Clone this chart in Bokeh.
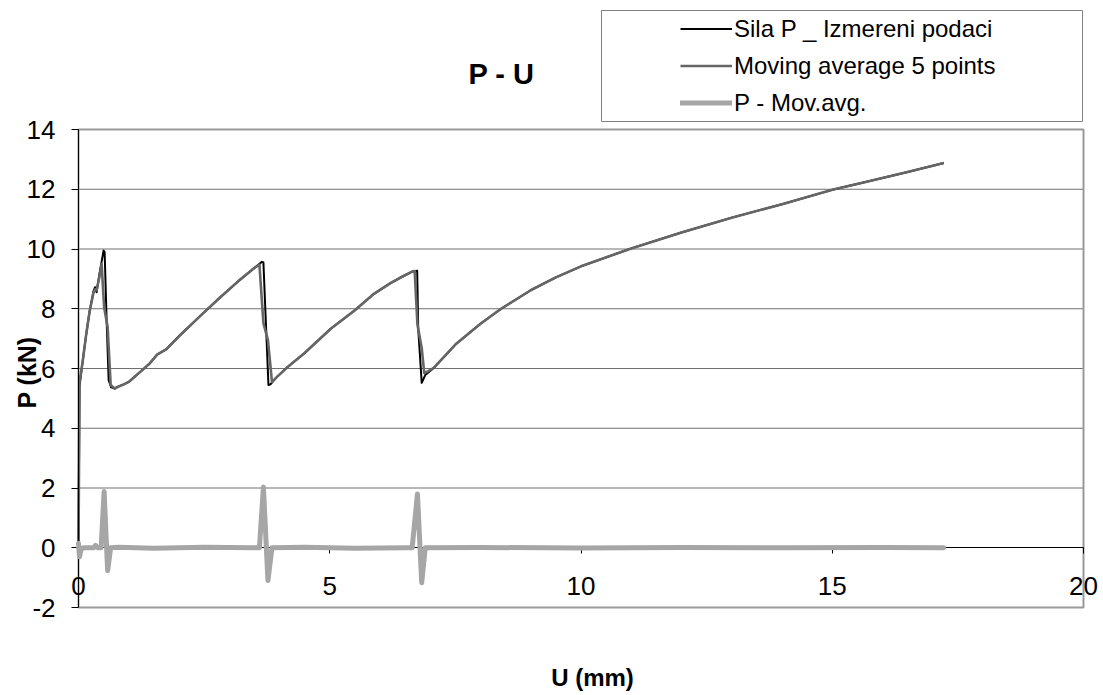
import math

from bokeh.plotting import figure
from bokeh.models import (Range1d, FixedTicker, Label, Legend, LegendItem,
                          BoxAnnotation)
from bokeh.embed import file_html
from bokeh.resources import INLINE

# Measured force P (kN) against displacement U (mm)
u_raw = [0.00, 0.02, 0.08, 0.15, 0.22, 0.30, 0.33, 0.36, 0.42, 0.50, 0.52,
         0.56, 0.60, 0.65, 0.72, 0.80, 0.90, 1.00, 1.10, 1.25, 1.40, 1.57,
         1.65, 1.75, 2.00, 2.43, 2.80, 3.20, 3.45, 3.65, 3.68, 3.72, 3.78,
         3.82, 3.95, 4.15, 4.50, 5.02, 5.50, 5.88, 6.20, 6.45, 6.65, 6.74,
         6.76, 6.83, 6.90, 7.07, 7.50, 8.00, 8.41, 9.00, 9.50, 10.00, 11.00,
         12.00, 13.00, 14.00, 15.00, 15.60, 16.50, 17.22]
p_raw = [0.00, 5.40, 6.20, 7.10, 7.90, 8.60, 8.72, 8.55, 9.20, 9.95, 9.90,
         7.60, 5.62, 5.37, 5.33, 5.40, 5.47, 5.55, 5.70, 5.92, 6.14, 6.47,
         6.55, 6.65, 7.08, 7.77, 8.35, 8.95, 9.30, 9.57, 9.55, 7.90, 5.45,
         5.47, 5.72, 6.03, 6.52, 7.33, 7.95, 8.50, 8.85, 9.08, 9.25, 9.27,
         7.35, 5.52, 5.78, 6.02, 6.80, 7.50, 8.00, 8.62, 9.05, 9.42, 10.02,
         10.55, 11.05, 11.50, 11.98, 12.22, 12.58, 12.88]

# Moving average over 5 points
u_avg = [0.00, 0.02, 0.08, 0.15, 0.22, 0.30, 0.33, 0.36, 0.42, 0.46, 0.51,
         0.58, 0.64, 0.72, 0.80, 0.90, 1.00, 1.10, 1.25, 1.40, 1.57, 1.65,
         1.75, 2.00, 2.43, 2.80, 3.20, 3.45, 3.60, 3.68, 3.77, 3.85, 3.95,
         4.15, 4.50, 5.02, 5.50, 5.88, 6.20, 6.45, 6.65, 6.69, 6.745, 6.83,
         6.88, 6.95, 7.07, 7.50, 8.00, 8.41, 9.00, 9.50, 10.00, 11.00, 12.00,
         13.00, 14.00, 15.00, 15.60, 16.50, 17.22]
p_avg = [0.00, 5.55, 6.20, 7.10, 7.90, 8.55, 8.65, 8.62, 9.10, 9.50, 8.05,
         7.38, 5.45, 5.33, 5.40, 5.47, 5.55, 5.70, 5.92, 6.14, 6.47, 6.55,
         6.65, 7.08, 7.77, 8.35, 8.95, 9.30, 9.48, 7.52, 6.95, 5.55, 5.72,
         6.03, 6.52, 7.33, 7.95, 8.50, 8.85, 9.08, 9.25, 9.26, 7.47, 6.69,
         5.85, 5.90, 6.02, 6.80, 7.50, 8.00, 8.62, 9.05, 9.42, 10.02, 10.55,
         11.05, 11.50, 11.98, 12.22, 12.58, 12.88]

# Measurement minus moving average
u_diff = [0.00, 0.02, 0.05, 0.10, 0.30, 0.34, 0.38, 0.45, 0.51, 0.58, 0.64,
          0.80, 1.50, 2.50, 3.50, 3.60, 3.68, 3.77, 3.85, 4.50, 5.50, 6.50,
          6.64, 6.745, 6.83, 6.90, 8.00, 10.00, 12.00, 14.00, 16.00, 17.22]
p_diff = [0.15, -0.30, -0.05, 0.00, 0.00, 0.08, 0.00, 0.00, 1.88, -0.77, 0.00,
          0.02, -0.02, 0.02, 0.00, 0.00, 2.03, -1.10, 0.00, 0.02, -0.02, 0.00,
          0.00, 1.80, -1.17, 0.00, 0.01, -0.01, 0.01, 0.00, 0.01, 0.00]

x_ticks = [0, 5, 10, 15, 20]
y_ticks = [-2, 0, 2, 4, 6, 8, 10, 12, 14]
grid_ticks = [2, 4, 6, 8, 10, 12]
x_limits = (0, 20)
y_limits = (-2, 14)

series_names = ["Sila P _ Izmereni podaci", "Moving average 5 points",
                "P - Mov.avg."]
chart_title = "P - U"
x_title = "U (mm)"
y_title = "P (kN)"

FONT = "Liberation Sans"

# Canvas size and the pixel box of the plotting area inside it
W, H = 1103, 695
AREA_L, AREA_R, AREA_T, AREA_B = 78, 1083, 129, 607

# The frame covers the whole canvas; the ranges are widened so that the
# plotting area lands on the pixel box above.
kx = (x_limits[1] - x_limits[0]) / (AREA_R - AREA_L)
ky = (y_limits[1] - y_limits[0]) / (AREA_B - AREA_T)
x_range = Range1d(x_limits[0] - AREA_L * kx, x_limits[1] + (W - AREA_R) * kx)
y_range = Range1d(y_limits[0] - (H - AREA_B) * ky, y_limits[1] + AREA_T * ky)

p = figure(width=W, height=H, output_backend="svg", toolbar_location=None,
           x_range=x_range, y_range=y_range,
           min_border=0, min_border_left=0, min_border_right=0,
           min_border_top=0, min_border_bottom=0,
           background_fill_color="white", border_fill_color="white")
p.title.visible = False
p.outline_line_color = None
p.grid.visible = False

# plotting-area border
p.add_layout(BoxAnnotation(left=x_limits[0], right=x_limits[1],
                           bottom=y_limits[0], top=y_limits[1],
                           fill_alpha=0, line_color="#999999", line_width=2,
                           line_alpha=1, level="underlay"))

# horizontal grid lines
r_grid = p.segment(x0=x_limits[0], x1=x_limits[1], y0=grid_ticks,
                   y1=grid_ticks, line_color="#707070", line_width=1)
r_grid.level = "underlay"

# axes crossing at the origin
p.xaxis.ticker = FixedTicker(ticks=x_ticks)
p.xaxis.fixed_location = 0
p.xaxis.bounds = x_limits
p.yaxis.ticker = FixedTicker(ticks=y_ticks)
p.yaxis.fixed_location = 0
p.yaxis.bounds = y_limits
p.yaxis.major_label_overrides = {t: str(t) for t in y_ticks}
p.xaxis.major_label_overrides = {t: str(t) for t in x_ticks}
for ax in (p.xaxis, p.yaxis):
    ax.axis_line_color = "black"
    ax.axis_line_width = 1
    ax.major_tick_line_color = "black"
    ax.major_tick_in = 0
    ax.minor_tick_line_color = None
    ax.major_label_text_font = FONT
    ax.major_label_text_font_size = "26px"
    ax.major_label_text_color = "black"
p.xaxis.major_tick_out = 6
p.xaxis.major_label_standoff = 23
p.yaxis.major_tick_out = 7
p.yaxis.major_label_standoff = 16

# series
r_raw = p.line(u_raw, p_raw, line_color="black", line_width=2,
               line_join="round")
r_avg = p.line(u_avg, p_avg, line_color="#666666", line_width=2.6,
               line_join="round")
r_diff = p.line(u_diff, p_diff, line_color="#a6a6a6", line_width=5,
                line_join="round", line_cap="round")
r_diff.level = "overlay"

# legend frame and entries (screen units from the bottom-left corner)
LEG_L, LEG_R, LEG_T, LEG_B = 601, 1082, 10, 121
p.add_layout(BoxAnnotation(left=LEG_L, right=LEG_R, bottom=H - LEG_B,
                           top=H - LEG_T,
                           left_units="screen", right_units="screen",
                           bottom_units="screen", top_units="screen",
                           fill_alpha=0, line_color="#808080", line_width=1,
                           line_alpha=1))
legend = Legend(items=[LegendItem(label=series_names[0], renderers=[r_raw]),
                       LegendItem(label=series_names[1], renderers=[r_avg]),
                       LegendItem(label=series_names[2], renderers=[r_diff])],
                location=(680, H - LEG_B))
legend.border_line_color = None
legend.background_fill_alpha = 0
legend.padding = 0
legend.margin = 0
legend.spacing = 0
legend.glyph_width = 52
legend.glyph_height = 37
legend.label_height = 37
legend.label_standoff = 2
legend.label_text_font = FONT
legend.label_text_font_size = "24px"
legend.label_text_color = "black"
p.add_layout(legend)

# chart and axis titles
p.add_layout(Label(x=501, y=H - 73, x_units="screen", y_units="screen",
                   text=chart_title, text_align="center",
                   text_baseline="middle", text_font=FONT,
                   text_font_size="29px", text_font_style="bold",
                   text_color="black"))
p.add_layout(Label(x=26, y=H - 372, x_units="screen", y_units="screen",
                   text=y_title, angle=math.pi / 2, text_align="center",
                   text_baseline="middle", text_font=FONT,
                   text_font_size="25px", text_font_style="bold",
                   text_color="black"))
p.add_layout(Label(x=592, y=H - 677, x_units="screen", y_units="screen",
                   text=x_title, text_align="center",
                   text_baseline="middle", text_font=FONT,
                   text_font_size="24px", text_font_style="bold",
                   text_color="black"))

open("out.html", "w").write(file_html(p, INLINE))
